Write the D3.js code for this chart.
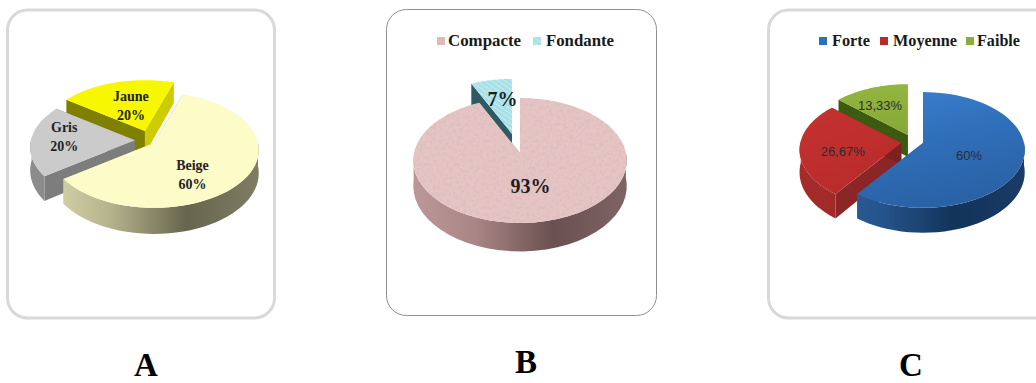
<!DOCTYPE html>
<html lang="fr">
<head>
<meta charset="utf-8">
<title>Répartition par couleur, texture et intensité</title>
<script src="https://cdn.jsdelivr.net/npm/d3@7"></script>
<style>
html,body{margin:0;padding:0;background:#fff;}
svg{display:block;}
</style>
</head>
<body>
<svg id="fig" width="1036" height="383"></svg>
<script>
// Chart values
const categoriesA = ["Beige", "Gris", "Jaune"];
const valuesA = [60, 20, 20];
const categoriesB = ["Compacte", "Fondante"];
const valuesB = [93, 7];
const categoriesC = ["Forte", "Moyenne", "Faible"];
const valuesC = [60, 26.67, 13.33];
const panelLetters = ["A", "B", "C"];

// Slice colours: top face, rim gradient stops, wall at slice start, wall at slice end
const stylesA = [
  {top:"#fdfbc8", rim:["#dedcae","#b5b38c","#66654d","#807f66"], w0:"#a8a680", w1:"#c9c7a0"},
  {top:"#cbcbcb", rim:["#8c8c8c","#6f6f6f"], w0:"#7d7d7d", w1:"#7d7d7d"},
  {top:"#f7f700", rim:["#c9c900","#a8a800"], w0:"#7f7f00", w1:"#cccc00"}
];
const stylesB = [
  {top:"#e6c4c4", rim:["#c29c9c","#a98585","#6a5050","#806565"], w0:"#a98585", w1:"#a98585", grain:true},
  {top:"url(#hatch)", rim:["#2f5a64","#2f5a64"], w0:"#2f5a64", w1:"#2f5a64"}
];
const stylesC = [
  {top:"url(#blueTop)", rim:["#2f639f","#26548c","#12335a","#1a3c66"], w0:"#2a5c96", w1:"#2a5c96"},
  {top:"url(#redTop)", rim:["#a42b2a","#8c2524"], w0:"#8c2626", w1:"#7c2020"},
  {top:"url(#greenTop)", rim:["#6f8f2a","#5c7a20"], w0:"#3c5a10", w1:"#44621a"}
];

// Pie geometry for each panel
const charts = [
  { names:categoriesA, values:valuesA, styles:stylesA, cx:154, cy:143, R:104, k:57, h:23, rotate:18,
    pulls:[[0,0],[-0.183,-0.05],[-0.087,-0.21]],
    labels:[[0.37,0.54],[-0.68,-0.07],[-0.135,-0.45]],
    labelFont:"bold 14px 'Liberation Serif'", labelFill:"#222", twoLines:true },
  { names:categoriesB, values:valuesB, styles:stylesB, cx:520, cy:153, R:106, k:61.6, h:25, rotate:0,
    pulls:[[0,0],[-0.075,-0.31]],
    labels:[[0.1,0.55],[-0.09,-0.55]],
    labelFont:"bold 20px 'Liberation Serif'", labelFill:"#1c1c1c", twoLines:false },
  { names:categoriesC, values:valuesC, styles:stylesC, cx:923, cy:143, R:101, k:57, h:22, rotate:0,
    pulls:[[0,0],[-0.215,0],[-0.149,-0.14]],
    labels:[[0.455,0.19],[-0.58,0.12],[-0.277,-0.54]],
    labelFont:"13px 'Liberation Sans'", labelFill:"#2b2b33", twoLines:false }
];

const perspective = 0.12;
const svg = d3.select("#fig");
const defs = svg.append("defs");

function linear(id, x1, y1, x2, y2, stops, user) {
  const g = defs.append("linearGradient").attr("id", id)
    .attr("x1", x1).attr("y1", y1).attr("x2", x2).attr("y2", y2);
  if (user) g.attr("gradientUnits", "userSpaceOnUse");
  stops.forEach((c, i) => g.append("stop")
    .attr("offset", stops.length > 1 ? i / (stops.length - 1) : 0).attr("stop-color", c));
}
linear("blueTop", 0, 0, 0.3, 1, ["#3b7fcf", "#2f6fb9", "#2a62a6"]);
linear("redTop", 0, 0, 0.4, 1, ["#c5322f", "#b82c2b"]);
linear("greenTop", 0, 0, 0, 1, ["#93b63f", "#86a838"]);

// Mottled surface for the compact share: darker flecks over the flat colour
const grain = defs.append("filter").attr("id", "grain")
  .attr("x", 0).attr("y", 0).attr("width", 1).attr("height", 1);
grain.append("feTurbulence").attr("type", "fractalNoise")
  .attr("baseFrequency", 0.3).attr("numOctaves", 2).attr("seed", 4).attr("result", "n");
grain.append("feColorMatrix").attr("in", "n").attr("type", "matrix")
  .attr("values", "0 0 0 0 0.72  0 0 0 0 0.52  0 0 0 0 0.52  0 3.2 0 0 -1.35").attr("result", "c");
grain.append("feComposite").attr("in", "c").attr("in2", "SourceGraphic").attr("operator", "in").attr("result", "g");
const merge = grain.append("feMerge");
merge.append("feMergeNode").attr("in", "SourceGraphic");
merge.append("feMergeNode").attr("in", "g");

// Fine hatching for the melting share
const hatch = defs.append("pattern").attr("id", "hatch").attr("patternUnits", "userSpaceOnUse")
  .attr("width", 4).attr("height", 4).attr("patternTransform", "rotate(35)");
hatch.append("rect").attr("width", 4).attr("height", 4).attr("fill", "#a8e0e8");
hatch.append("rect").attr("width", 4).attr("height", 1).attr("fill", "#c4ecf0");

// Rounded frames
const frames = [
  {x:7.5, y:10, w:267, h:308, r:20, c:"#d9d9d9", sw:3},
  {x:386.5, y:9.5, w:270, h:306, r:20, c:"#8f8f8f", sw:1},
  {x:768.5, y:10, w:290, h:308, r:20, c:"#d9d9d9", sw:3}
];
svg.selectAll("rect.frame").data(frames).join("rect").attr("class", "frame")
  .attr("x", d => d.x).attr("y", d => d.y).attr("width", d => d.w).attr("height", d => d.h)
  .attr("rx", d => d.r).attr("ry", d => d.r)
  .attr("fill", "#fff").attr("stroke", d => d.c).attr("stroke-width", d => d.sw);

const lineGen = d3.line().x(d => d[0]).y(d => d[1]);

charts.forEach((chart, ci) => {
  const xS = d3.scaleLinear().domain([-1, 1]).range([-chart.R, chart.R]);
  const yS = d3.scaleLinear().domain([-1, 1]).range([-chart.k, chart.k]);
  const arcs = d3.pie().sort(null)
    .startAngle(chart.rotate * Math.PI / 180)
    .endAngle((chart.rotate + 360) * Math.PI / 180)(chart.values);

  const g = svg.append("g");
  const slices = arcs.map((a, i) => ({a, i}));

  // Back slices first, so the nearer ones overlap them
  slices.slice().reverse().forEach(({a, i}) => {
    const st = chart.styles[i];
    const ox = chart.cx + xS(chart.pulls[i][0]);
    const oy = chart.cy + yS(chart.pulls[i][1]);
    const project = (t, r, z) => {
      const X = r * Math.sin(t), Y = -r * Math.cos(t);
      const s = 1 / (1 - perspective * Y);
      return [ox + xS(X * s), oy + yS(Y * s) + z * chart.h * s];
    };
    const steps = d3.range(0, 61).map(n => a.startAngle + (a.endAngle - a.startAngle) * n / 60);

    const gradId = "rim" + ci + "_" + i;
    linear(gradId, chart.cx - chart.R - 15, 0, chart.cx + chart.R + 5, 0, st.rim, true);

    const wall = (t, fill) => g.append("path")
      .attr("d", lineGen([project(t,0,0), project(t,1,0), project(t,1,1), project(t,0,1)]) + "Z")
      .attr("fill", fill);
    wall(a.startAngle, st.w0);
    wall(a.endAngle, st.w1);

    // Only the part of the rim that faces the viewer
    const front = steps.filter(t => -Math.cos(t) > -0.05);
    if (front.length > 1) {
      const rim = front.map(t => project(t,1,0)).concat(front.slice().reverse().map(t => project(t,1,1)));
      g.append("path").attr("d", lineGen(rim) + "Z").attr("fill", `url(#${gradId})`);
    }

    const topPts = [project(0,0,0)].concat(steps.map(t => project(t,1,0)));
    const topPath = g.append("path").attr("d", lineGen(topPts) + "Z").attr("fill", st.top);
    if (st.grain) topPath.attr("filter", "url(#grain)");
  });

  // Slice labels
  slices.forEach(({a, i}) => {
    const ox = chart.cx + xS(chart.pulls[i][0]) + xS(chart.labels[i][0]);
    const oy = chart.cy + yS(chart.pulls[i][1]) + yS(chart.labels[i][1]);
    const pct = String(a.data).replace(".", ",") + "%";
    const text = g.append("text").attr("text-anchor", "middle")
      .style("font", chart.labelFont).attr("fill", chart.labelFill);
    if (chart.twoLines) {
      text.append("tspan").attr("x", ox).attr("y", oy - 4).text(chart.names[i]);
      text.append("tspan").attr("x", ox).attr("y", oy + 15).text(pct);
    } else {
      text.attr("x", ox).attr("y", oy + 6).text(pct);
    }
  });
});

// Legends
const legendB = [
  {swatch:"#e0b9b9", name:categoriesB[0], sx:437, tx:448, tw:73},
  {swatch:"url(#hatch)", name:categoriesB[1], sx:533, tx:546, tw:68}
];
const legendC = [
  {swatch:"#2f6fb9", name:categoriesC[0], sx:819, tx:832, tw:38},
  {swatch:"#b82c2b", name:categoriesC[1], sx:880, tx:893, tw:64},
  {swatch:"#8aad3b", name:categoriesC[2], sx:966, tx:977, tw:43}
];
[legendB, legendC].forEach(items => {
  const base = 46;
  const lg = svg.append("g");
  lg.selectAll("rect").data(items).join("rect")
    .attr("x", d => d.sx).attr("y", base - 9).attr("width", 8).attr("height", 8)
    .attr("fill", d => d.swatch);
  lg.selectAll("text").data(items).join("text")
    .attr("x", d => d.tx).attr("y", base)
    .attr("textLength", d => d.tw).attr("lengthAdjust", "spacingAndGlyphs")
    .style("font", "bold 17px 'Liberation Serif'").attr("fill", "#1a1a1a")
    .text(d => d.name);
});

// Panel letters
const letterPos = [[146, 376], [526, 373], [911, 376]];
svg.selectAll("text.letter").data(panelLetters).join("text").attr("class", "letter")
  .attr("x", (d, i) => letterPos[i][0]).attr("y", (d, i) => letterPos[i][1])
  .attr("text-anchor", "middle")
  .style("font", "bold 33px 'Liberation Serif'").attr("fill", "#000")
  .text(d => d);
</script>
</body>
</html>
